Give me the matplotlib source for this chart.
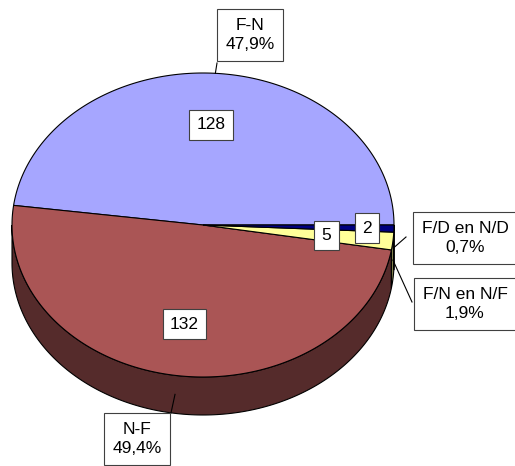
import numpy as np
import matplotlib.pyplot as plt
from matplotlib.patches import Polygon

plt.rcParams['font.family'] = ['Liberation Sans', 'DejaVu Sans']

# Data
categories = ['F-N', 'N-F', 'F/N en N/F', 'F/D en N/D']
counts = [128, 132, 5, 2]
top_colors = ['#A6A6FF', '#AA5555', '#FFFF99', '#000080']
side_colors = ['#53537F', '#552B2B', '#80804C', '#000040']

# Geometry of the 3D pie (pixel space)
cx, cy = 203, 225
a, b = 191, 152
depth = 38

# label placement (layout)
cat_pos = [(250, 35), (137, 439), (465, 304), (465, 238)]
cat_line_end = [(217, 63), (171, 413), (412, 302), (406, 237)]
val_frac = [0.66, 0.66, 0.65, 0.86]

fig = plt.figure(figsize=(5.15, 4.66), dpi=100)
ax = fig.add_axes([0, 0, 1, 1])
ax.set_xlim(0, 515)
ax.set_ylim(466, 0)
ax.axis('off')


def ell(t, r=1.0, dz=0.0):
    t = np.radians(t)
    return cx + r * a * np.cos(t), cy - r * b * np.sin(t) + dz


total = sum(counts)
angles = np.concatenate([[0], np.cumsum(counts) / total * 360])

# sides first (only the front half, 180..360 deg, is visible)
for i in range(len(counts)):
    t0, t1 = max(angles[i], 180), min(angles[i + 1], 360)
    if t1 <= t0:
        continue
    t = np.linspace(t0, t1, 200)
    x, y = ell(t)
    xb, yb = ell(t[::-1], dz=depth)
    pts = np.column_stack([np.concatenate([x, xb]), np.concatenate([y, yb])])
    ax.add_patch(Polygon(pts, closed=True, facecolor=side_colors[i],
                         edgecolor='black', lw=0.8))

# top faces
for i in range(len(counts)):
    t = np.linspace(angles[i], angles[i + 1], 300)
    x, y = ell(t)
    pts = np.column_stack([np.concatenate([[cx], x]), np.concatenate([[cy], y])])
    ax.add_patch(Polygon(pts, closed=True, facecolor=top_colors[i],
                         edgecolor='black', lw=0.8))

# labels
for i, (cat, n) in enumerate(zip(categories, counts)):
    mid = (angles[i] + angles[i + 1]) / 2
    vx, vy = ell(mid, r=val_frac[i])
    ax.text(vx, vy, str(n), ha='center', va='center', fontsize=12.5,
            bbox=dict(boxstyle='square,pad=0.42', fc='white', ec='#404040', lw=0.8))

    pct = f'{n / total * 100:.1f}'.replace('.', ',') + '%'
    px, py = cat_pos[i]
    ax.text(px, py, f'{cat}\n{pct}', ha='center', va='center', fontsize=12.5,
            linespacing=1.35,
            bbox=dict(boxstyle='square,pad=0.5', fc='white', ec='#404040', lw=0.8))

    # leader line from the pie edge to the label box
    ex, ey = ell(mid)
    if np.sin(np.radians(mid)) <= 0.3:
        ey += depth / 2
    lx, ly = cat_line_end[i]
    ax.plot([ex, lx], [ey, ly], color='black', lw=0.8)

fig.savefig('out.png', dpi=100)
